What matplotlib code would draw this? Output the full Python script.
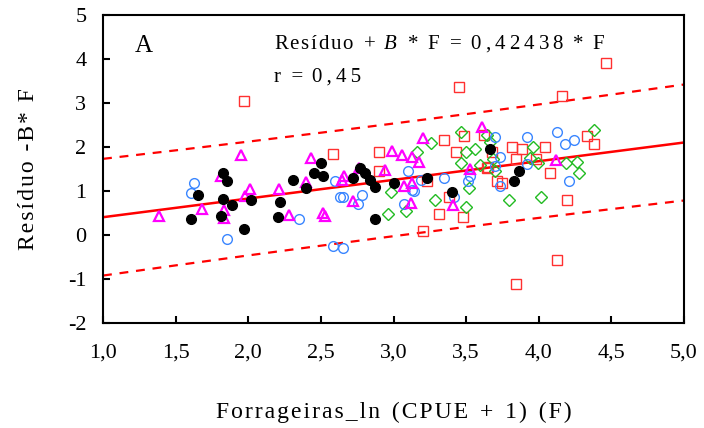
import numpy as np
import matplotlib.pyplot as plt

plt.rcParams['font.family'] = ['Liberation Serif', 'DejaVu Serif']
plt.rcParams['mathtext.fontset'] = 'custom'
plt.rcParams['mathtext.it'] = 'Liberation Serif:italic'
plt.rcParams['mathtext.rm'] = 'Liberation Serif'
plt.rcParams['axes.unicode_minus'] = False

# series (x = ln(CPUE+1), y = residual + B*F)
black_x = [1.606, 1.656, 1.824, 1.856, 1.824, 1.89, 1.81, 1.97, 2.02, 2.22, 2.306, 2.207,
           2.503, 2.453, 2.517, 2.40, 2.719, 2.77, 2.806, 2.836, 2.87, 2.87, 3.003, 3.233,
           3.40, 3.664, 3.864, 3.83]
black_y = [0.36, 0.91, 1.40, 1.23, 0.81, 0.69, 0.43, 0.14, 0.80, 0.74, 1.24, 0.42,
           1.63, 1.42, 1.35, 1.06, 1.29, 1.52, 1.40, 1.25, 1.08, 0.36, 1.18, 1.29,
           0.98, 1.95, 1.46, 1.23]

blue_x = [1.627, 1.606, 1.854, 2.35, 2.60, 2.63, 2.655, 2.78, 2.758, 2.585, 2.65, 3.097,
          3.13, 3.14, 3.07, 3.19, 3.347, 3.53, 3.515, 3.417, 3.70, 3.733, 3.70, 3.733,
          3.917, 3.917, 4.128, 4.18, 4.21, 4.245]
blue_y = [1.18, 0.96, -0.08, 0.36, 1.23, 0.86, 0.86, 0.91, 0.70, -0.25, -0.30, 1.46,
          1.02, 1.00, 0.70, 1.25, 1.29, 1.33, 1.23, 0.86, 2.22, 1.78, 1.57, 1.12,
          2.22, 1.61, 2.33, 2.06, 1.23, 2.17]

mag_x = [1.383, 1.68, 1.81, 1.833, 1.83, 1.948, 2.014, 1.98, 2.214, 2.278, 2.432, 2.398,
         2.643, 2.66, 2.76, 2.723, 2.512, 2.526, 2.99, 3.058, 3.125, 3.175, 2.944, 3.07,
         3.127, 3.123, 3.205, 3.41, 3.524, 3.607, 4.12]
mag_y = [0.44, 0.59, 1.35, 0.57, 0.38, 1.81, 1.05, 0.89, 1.05, 0.45, 1.76, 1.21,
         1.25, 1.33, 1.53, 0.77, 0.49, 0.43, 1.92, 1.81, 1.77, 1.65, 1.48, 1.11,
         1.18, 0.72, 2.20, 0.68, 1.49, 2.46, 1.70]

green_x = [2.98, 2.965, 3.085, 3.164, 3.256, 3.283, 3.496, 3.465, 3.462, 3.496, 3.56, 3.52,
           3.595, 3.646, 3.664, 3.687, 3.70, 3.797, 3.963, 3.94, 3.997, 4.013, 4.185, 4.261,
           4.277, 4.38]
green_y = [0.97, 0.47, 0.55, 1.89, 2.10, 0.80, 0.63, 2.35, 1.63, 1.89, 1.95, 1.06,
           1.59, 2.27, 2.12, 1.72, 1.46, 0.80, 2.01, 1.74, 1.64, 0.86, 1.63, 1.67,
           1.40, 2.39]

red_x = [1.973, 2.585, 2.90, 2.90, 3.233, 3.347, 3.448, 3.315, 3.20, 3.385, 3.48, 3.43,
         3.485, 3.648, 3.623, 3.68, 3.646, 3.715, 3.75, 3.813, 3.882, 3.843, 3.98, 4.045,
         4.08, 3.843, 4.128, 4.162, 4.197, 4.33, 4.38, 4.46]
red_y = [3.05, 1.84, 1.89, 1.46, 1.23, 2.17, 3.37, 0.47, 0.10, 0.86, 0.42, 1.89,
         2.24, 1.55, 2.27, 1.89, 1.52, 1.23, 1.19, 2.01, 1.95, 1.73, 1.72, 2.01,
         1.40, -1.12, -0.57, 3.16, 0.80, 2.24, 2.06, 3.92]

slope = 0.42438
intercept = -0.02
band_half = 1.28

x_ticks = [1.0, 1.5, 2.0, 2.5, 3.0, 3.5, 4.0, 4.5, 5.0]
x_labels = ['1,0', '1,5', '2,0', '2,5', '3,0', '3,5', '4,0', '4,5', '5,0']
y_ticks = [-2, -1, 0, 1, 2, 3, 4, 5]

HAIR = '\u200a'
THIN = '\u2009'


def spaced(s, gap=HAIR, wide=True):
    # the original uses wide letter spacing; emulate it with narrow spaces
    out = gap.join(s)
    return out.replace(' ', ' ' + HAIR) if wide else out


fig = plt.figure(figsize=(7.04, 4.28), dpi=100)
ax = fig.add_axes([0.1463, 0.2453, 0.8253, 0.7197])

ms = 7
ax.plot(red_x, red_y, 's', ms=6.5, mfc='none', mec='#ff3030', mew=1.0, zorder=3)
ax.plot(green_x, green_y, 'D', ms=6, mfc='none', mec='#22bb22', mew=1.0, zorder=3)
ax.plot(blue_x, blue_y, 'o', ms=ms, mfc='none', mec='#3a86ff', mew=1.0, zorder=3)
ax.plot(mag_x, mag_y, '^', ms=7, mfc='none', mec='#ff00ff', mew=1.6, zorder=3)
ax.plot(black_x, black_y, 'o', ms=ms, mfc='black', mec='black', zorder=4)

xf = np.linspace(1.0, 5.0, 200)
yf = intercept + slope * xf
half = band_half * np.sqrt(1 + (xf - 3.1) ** 2 / 60)
ax.plot(xf, yf, color='#ff0000', lw=1.8, zorder=2)
ax.plot(xf, yf + half, color='#ff0000', lw=1.6, dashes=(4, 3.5), zorder=2)
ax.plot(xf, yf - half, color='#ff0000', lw=1.6, dashes=(4, 3.5), zorder=2)

ax.set_xlim(1.0, 5.0)
ax.set_ylim(-2, 5)
ax.set_xticks(x_ticks)
ax.set_xticklabels(x_labels)
ax.set_yticks(y_ticks)
ax.tick_params(direction='in', length=5, width=1.5, labelsize=16)
ax.tick_params(axis='x', pad=15)
ax.tick_params(axis='y', pad=12)
for s in ax.spines.values():
    s.set_linewidth(1.5)

ax.text(1.22, 4.3, 'A', fontsize=18, ha='left', va='center')
eq = (spaced('Resíduo + ') + '$B$' + HAIR + spaced(' * F = ')
      + spaced('0,42438', THIN) + spaced(' * F'))
ax.text(2.18, 4.35, eq, fontsize=15, ha='left', va='center')
ax.text(2.18, 3.6, spaced('r = ') + spaced('0,45', THIN), fontsize=15,
        ha='left', va='center')

ax.set_xlabel(spaced('Forrageiras_ln (CPUE + 1) (F)'), fontsize=17, labelpad=28)
ax.set_ylabel(spaced('Resíduo -B* F', wide=False), fontsize=17, labelpad=21)

fig.savefig('out.png', dpi=100)
